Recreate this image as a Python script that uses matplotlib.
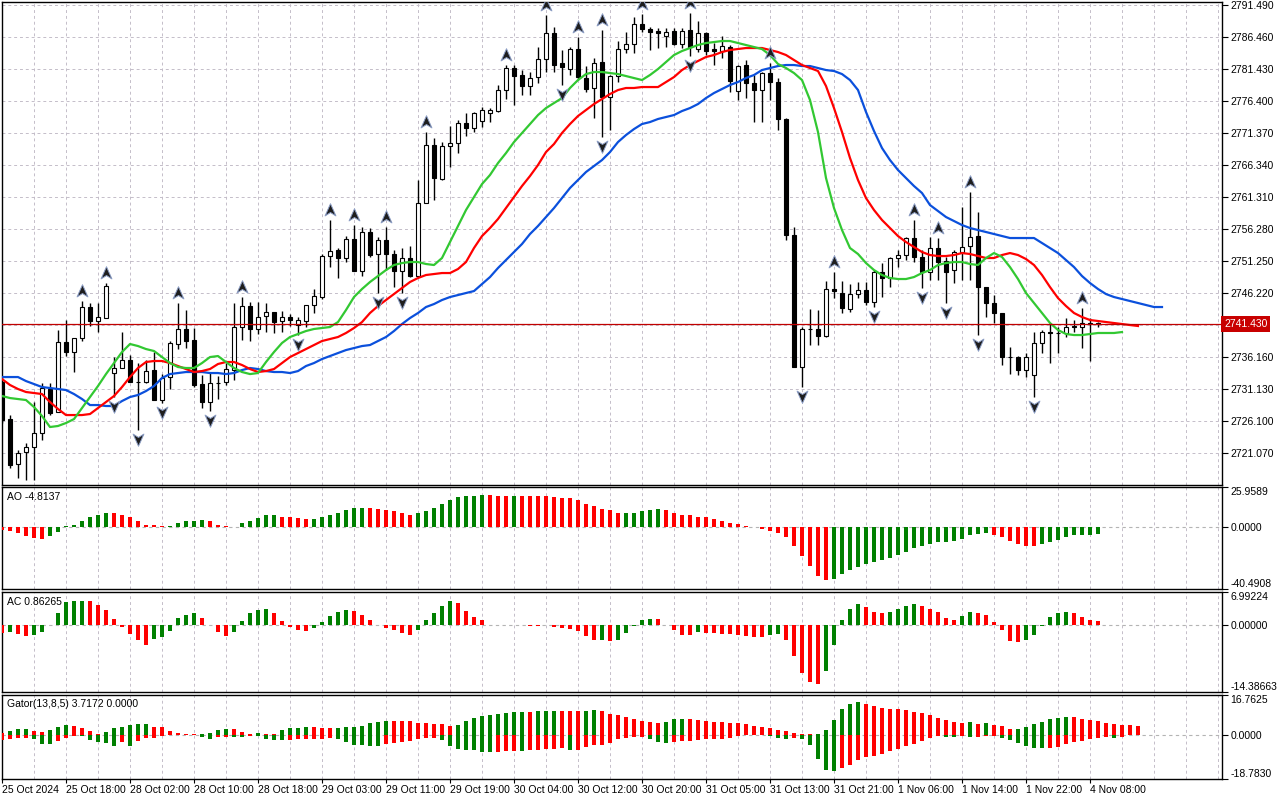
"""XAUUSD H1 chart: candles, Alligator, fractals, AO, AC and Gator panels."""

import matplotlib
matplotlib.use('Agg')
from matplotlib import pyplot as plt
from matplotlib.path import Path
from matplotlib.transforms import blended_transform_factory
import numpy as np

plt.rcParams['font.family'] = ['Liberation Sans', 'DejaVu Sans']
plt.rcParams['font.size'] = 7.5

time_labels = [
    '25 Oct 2024', '25 Oct 18:00', '28 Oct 02:00', '28 Oct 10:00', '28 Oct 18:00',
    '29 Oct 03:00', '29 Oct 11:00', '29 Oct 19:00', '30 Oct 04:00', '30 Oct 12:00',
    '30 Oct 20:00', '31 Oct 05:00', '31 Oct 13:00', '31 Oct 21:00', '1 Nov 06:00',
    '1 Nov 14:00', '1 Nov 22:00', '4 Nov 08:00',
]

opens = [
    2732.27, 2726.46, 2719.39, 2721.27, 2722.06, 2724.26, 2731.17, 2727.55, 2738.55, 2736.98,
    2739.18, 2744.05, 2741.85, 2742.32, 2733.68, 2734.47, 2735.72, 2732.27, 2732.27, 2734.15,
    2729.44, 2733.05, 2738.24, 2740.60, 2738.87, 2731.95, 2729.13, 2732.11, 2732.27, 2734.15,
    2740.91, 2744.21, 2740.60, 2742.64, 2743.27, 2741.85, 2742.48, 2741.22, 2741.85, 2744.36,
    2745.62, 2752.06, 2753.01, 2751.75, 2754.73, 2749.70, 2755.83, 2752.38, 2754.58, 2752.38,
    2749.70, 2751.75, 2748.92, 2760.39, 2769.50, 2764.16, 2769.34, 2769.81, 2772.96, 2772.17,
    2773.27, 2774.53, 2774.84, 2778.14, 2781.60, 2780.50, 2778.77, 2780.18, 2783.01, 2787.10,
    2782.38, 2781.44, 2784.58, 2780.03, 2778.46, 2782.54, 2777.04, 2780.34, 2784.58, 2785.37,
    2788.51, 2787.72, 2787.41, 2786.62, 2787.41, 2785.37, 2787.57, 2784.58, 2787.10, 2784.58,
    2784.27, 2784.90, 2777.98, 2782.07, 2779.24, 2778.14, 2780.81, 2779.40, 2773.59, 2755.36,
    2734.62, 2740.60, 2740.60, 2739.49, 2746.88, 2746.25, 2743.74, 2746.09, 2746.72, 2744.83,
    2749.55, 2748.61, 2751.75, 2752.22, 2754.89, 2751.91, 2749.55, 2753.32, 2751.28, 2749.86,
    2752.69, 2753.63, 2755.20, 2747.19, 2744.68, 2743.11, 2736.19, 2736.19, 2734.15, 2733.37,
    2738.40, 2740.12, 2739.97, 2739.97, 2741.07, 2740.91, 2741.54, 2741.54,
]
highs = [
    2732.90, 2727.08, 2721.58, 2722.69, 2729.13, 2732.11, 2732.11, 2740.44, 2742.01, 2739.18,
    2744.99, 2744.68, 2744.68, 2747.82, 2736.19, 2740.12, 2736.51, 2735.25, 2735.72, 2736.98,
    2733.52, 2738.71, 2744.68, 2743.58, 2740.75, 2733.37, 2733.84, 2733.21, 2735.25, 2744.68,
    2745.62, 2744.83, 2744.83, 2744.68, 2743.27, 2743.42, 2742.95, 2742.48, 2744.36, 2746.88,
    2752.38, 2757.72, 2753.32, 2755.20, 2756.93, 2756.62, 2756.46, 2755.05, 2756.62, 2753.01,
    2753.32, 2753.63, 2764.00, 2771.54, 2770.60, 2769.97, 2772.49, 2773.43, 2774.53, 2774.69,
    2775.47, 2775.31, 2778.93, 2782.07, 2782.07, 2781.28, 2780.97, 2784.90, 2789.92, 2788.04,
    2784.43, 2784.90, 2786.47, 2781.91, 2783.17, 2787.57, 2780.50, 2785.84, 2787.25, 2789.61,
    2790.08, 2788.04, 2787.88, 2787.88, 2787.88, 2787.88, 2790.24, 2788.98, 2787.25, 2785.52,
    2786.62, 2785.21, 2782.07, 2782.85, 2780.50, 2780.97, 2782.38, 2780.03, 2773.74, 2756.62,
    2740.91, 2743.74, 2743.58, 2748.13, 2749.55, 2748.13, 2747.66, 2747.98, 2747.98, 2749.86,
    2750.96, 2751.91, 2753.01, 2755.05, 2757.72, 2753.01, 2755.05, 2754.89, 2751.91, 2753.01,
    2759.76, 2762.12, 2758.97, 2747.19, 2745.94, 2743.11, 2737.77, 2736.35, 2736.82, 2740.12,
    2740.44, 2741.54, 2740.91, 2742.32, 2742.01, 2743.89, 2742.32, 2741.69,
]
lows = [
    2725.83, 2718.76, 2717.19, 2716.87, 2716.87, 2723.16, 2727.08, 2727.55, 2736.35, 2733.84,
    2738.71, 2741.07, 2740.12, 2742.32, 2729.91, 2734.47, 2732.27, 2724.73, 2732.11, 2729.44,
    2728.97, 2731.17, 2737.45, 2737.61, 2731.48, 2728.18, 2727.71, 2729.60, 2731.80, 2732.58,
    2738.87, 2738.71, 2739.81, 2740.12, 2739.97, 2740.12, 2741.07, 2739.65, 2740.91, 2743.11,
    2745.31, 2750.33, 2748.61, 2751.12, 2749.70, 2748.92, 2751.91, 2746.25, 2749.86, 2747.19,
    2746.25, 2748.76, 2748.92, 2760.39, 2760.86, 2764.00, 2766.04, 2768.24, 2770.91, 2771.54,
    2772.33, 2773.11, 2774.69, 2776.73, 2775.78, 2777.36, 2777.36, 2779.24, 2780.97, 2780.97,
    2778.93, 2780.50, 2779.71, 2777.83, 2773.74, 2770.76, 2771.86, 2779.40, 2783.95, 2783.95,
    2787.25, 2784.43, 2784.74, 2784.90, 2785.21, 2784.74, 2783.48, 2784.11, 2783.64, 2782.07,
    2783.17, 2777.83, 2776.57, 2776.88, 2773.11, 2773.11, 2776.57, 2771.86, 2754.58, 2734.62,
    2731.48, 2738.08, 2738.08, 2739.34, 2745.46, 2743.11, 2743.27, 2745.46, 2744.36, 2744.05,
    2745.62, 2747.19, 2750.33, 2751.43, 2751.12, 2747.03, 2748.29, 2748.29, 2744.68, 2747.82,
    2748.29, 2748.29, 2739.65, 2742.48, 2741.54, 2734.94, 2733.52, 2733.37, 2733.05, 2729.91,
    2736.82, 2735.25, 2736.82, 2739.34, 2740.12, 2737.61, 2735.57, 2740.91,
]
closes = [
    2726.30, 2719.23, 2721.11, 2722.06, 2724.26, 2731.33, 2727.40, 2738.55, 2736.98, 2739.18,
    2744.05, 2741.85, 2742.48, 2747.35, 2734.47, 2735.72, 2732.27, 2732.20, 2733.99, 2729.44,
    2732.90, 2738.40, 2740.60, 2738.71, 2731.80, 2729.13, 2732.11, 2732.05, 2734.31, 2740.91,
    2744.21, 2740.60, 2742.48, 2743.27, 2741.69, 2742.48, 2742.01, 2742.01, 2744.36, 2745.78,
    2752.06, 2752.85, 2751.75, 2754.73, 2749.70, 2755.83, 2752.22, 2754.58, 2752.38, 2749.70,
    2751.75, 2748.92, 2760.39, 2769.50, 2764.32, 2769.34, 2769.81, 2772.96, 2772.17, 2774.53,
    2775.00, 2775.00, 2778.14, 2781.60, 2780.34, 2778.77, 2780.03, 2783.01, 2787.10, 2782.07,
    2781.75, 2784.58, 2780.18, 2778.30, 2782.38, 2777.04, 2780.34, 2784.58, 2785.37, 2788.51,
    2787.72, 2787.25, 2787.10, 2787.25, 2785.37, 2787.41, 2784.90, 2787.10, 2784.27, 2784.27,
    2785.05, 2779.55, 2781.91, 2779.24, 2778.14, 2780.81, 2779.40, 2773.59, 2755.36, 2734.62,
    2740.60, 2740.55, 2739.49, 2746.88, 2746.56, 2743.89, 2746.09, 2746.72, 2744.83, 2749.55,
    2748.61, 2751.75, 2752.22, 2754.89, 2751.91, 2749.55, 2753.32, 2751.12, 2749.55, 2752.69,
    2753.48, 2755.05, 2747.19, 2744.68, 2743.11, 2736.19, 2736.15, 2734.15, 2736.19, 2738.40,
    2740.12, 2739.97, 2739.92, 2740.91, 2740.91, 2741.54, 2741.38, 2741.43,
]

# Alligator lines, already shifted forward (8, 5 and 3 bars)
jaw = [
    2733.05, 2733.05, 2733.05, 2732.42, 2731.95, 2731.48, 2731.33, 2731.17, 2731.01, 2730.38,
    2729.60, 2728.65, 2728.65, 2728.50, 2728.50, 2729.28, 2729.91, 2730.23, 2730.85, 2731.64,
    2732.90, 2733.52, 2733.68, 2733.84, 2733.84, 2733.84, 2733.68, 2733.68, 2733.52, 2733.68,
    2734.15, 2734.47, 2734.31, 2733.99, 2733.84, 2733.84, 2733.68, 2733.99, 2734.78, 2735.25,
    2735.88, 2736.35, 2736.82, 2737.29, 2737.61, 2737.92, 2738.08, 2738.71, 2739.34, 2740.28,
    2741.38, 2742.32, 2743.11, 2744.05, 2744.52, 2745.15, 2745.62, 2745.94, 2746.25, 2746.56,
    2747.66, 2748.76, 2750.18, 2751.43, 2752.69, 2753.95, 2755.52, 2756.78, 2758.19, 2759.60,
    2761.17, 2762.75, 2764.00, 2765.26, 2766.20, 2767.14, 2768.40, 2769.97, 2771.07, 2772.01,
    2772.80, 2773.11, 2773.59, 2773.90, 2774.21, 2774.84, 2775.31, 2775.94, 2776.88, 2777.67,
    2778.30, 2778.93, 2779.40, 2780.03, 2780.50, 2781.28, 2781.60, 2781.91, 2782.07, 2782.07,
    2781.91, 2781.91, 2781.60, 2781.28, 2781.13, 2780.65, 2779.71, 2778.14, 2774.69, 2771.70,
    2769.03, 2767.14, 2765.57, 2764.32, 2763.06, 2761.96, 2760.07, 2759.13, 2758.19, 2757.56,
    2756.93, 2756.46, 2756.15, 2755.83, 2755.52, 2755.20, 2754.89, 2754.89, 2754.89, 2754.89,
    2754.10, 2753.32, 2752.53, 2751.43, 2750.33, 2748.92, 2747.82, 2746.88, 2746.09, 2745.62,
    2745.31, 2744.99, 2744.68, 2744.36, 2744.05, 2744.05,
]
teeth = [
    2732.74, 2731.80, 2731.17, 2730.70, 2730.54, 2730.38, 2729.13, 2728.03, 2727.08, 2727.08,
    2727.08, 2727.24, 2728.18, 2729.13, 2730.07, 2731.48, 2733.05, 2734.47, 2735.41, 2735.57,
    2735.57, 2735.25, 2734.78, 2734.31, 2733.84, 2733.99, 2734.31, 2735.10, 2735.41, 2735.41,
    2734.94, 2734.31, 2733.84, 2733.99, 2734.31, 2735.25, 2736.19, 2736.82, 2737.45, 2738.08,
    2738.71, 2739.02, 2739.34, 2739.97, 2740.75, 2741.69, 2743.11, 2744.21, 2745.15, 2746.09,
    2747.03, 2747.98, 2748.61, 2749.08, 2749.23, 2749.39, 2749.39, 2750.02, 2751.12, 2753.32,
    2755.20, 2756.46, 2757.88, 2759.60, 2761.33, 2763.06, 2764.63, 2766.36, 2768.40, 2769.66,
    2771.39, 2772.80, 2774.06, 2775.00, 2775.94, 2776.73, 2777.51, 2778.14, 2778.46, 2778.46,
    2778.61, 2778.61, 2778.61, 2779.40, 2780.18, 2781.28, 2782.07, 2782.70, 2783.33, 2783.64,
    2784.11, 2784.43, 2784.58, 2784.74, 2784.74, 2784.74, 2784.43, 2784.11, 2783.64, 2782.85,
    2782.07, 2781.60, 2781.13, 2778.77, 2775.31, 2771.54, 2767.46, 2764.00, 2761.17, 2759.29,
    2757.72, 2756.46, 2755.20, 2754.26, 2753.48, 2752.69, 2752.22, 2752.06, 2752.06, 2752.22,
    2752.53, 2752.38, 2752.06, 2751.75, 2751.75, 2752.22, 2752.53, 2752.22, 2751.59, 2750.65,
    2749.08, 2747.19, 2745.46, 2744.21, 2743.11, 2742.48, 2742.01, 2741.85, 2741.69, 2741.54,
    2741.38, 2741.22, 2741.07,
]
lips = [
    2730.07, 2729.75, 2729.60, 2729.44, 2728.34, 2726.93, 2725.20, 2725.36, 2725.83, 2726.45,
    2728.18, 2729.91, 2731.64, 2733.52, 2735.25, 2736.98, 2738.24, 2737.92, 2737.45, 2737.14,
    2736.19, 2735.25, 2734.62, 2734.47, 2734.47, 2735.25, 2736.19, 2736.35, 2735.41, 2734.47,
    2733.84, 2733.52, 2733.68, 2735.41, 2736.98, 2738.40, 2739.34, 2739.81, 2740.28, 2740.60,
    2740.75, 2740.91, 2741.69, 2743.58, 2745.62, 2746.88, 2747.98, 2748.92, 2749.86, 2750.65,
    2750.96, 2751.12, 2751.12, 2750.81, 2750.65, 2751.75, 2754.26, 2756.78, 2759.29, 2761.33,
    2763.37, 2764.79, 2766.67, 2768.24, 2769.97, 2771.39, 2772.80, 2774.21, 2775.31, 2776.10,
    2776.88, 2778.46, 2779.71, 2780.65, 2780.97, 2780.97, 2780.81, 2780.65, 2780.34, 2780.03,
    2779.71, 2780.50, 2781.44, 2782.54, 2783.64, 2784.27, 2784.74, 2785.21, 2785.52, 2785.68,
    2785.84, 2785.84, 2785.52, 2785.21, 2784.90, 2784.58, 2783.64, 2782.23, 2781.60, 2780.81,
    2779.71, 2776.57, 2771.54, 2764.32, 2759.60, 2756.15, 2753.32, 2752.38, 2750.96, 2749.86,
    2749.08, 2748.61, 2748.45, 2748.45, 2748.76, 2749.39, 2749.86, 2750.65, 2750.96, 2751.12,
    2751.12, 2750.81, 2750.65, 2751.75, 2752.53, 2751.91, 2750.33, 2748.45, 2746.25, 2744.68,
    2743.11, 2741.54, 2740.44, 2739.81, 2739.65, 2739.65, 2739.81, 2739.97, 2739.97, 2739.97,
    2740.12,
]

fractals_up = [10, 13, 22, 30, 41, 44, 48, 53, 63, 68, 72, 75, 80, 86, 96, 104, 114, 117, 121, 135]
fractals_down = [14, 17, 20, 26, 37, 47, 50, 70, 75, 86, 100, 109, 115, 118, 122, 129]

ao_values = [
    -2.2, -2.8, -4.3, -6.1, -7.2, -7.6, -6.1, -3.5, 0.4, 1.5,
    4.1, 6.7, 8.0, 9.3, 8.7, 8.0, 6.1, 3.5, 1.1, 0.9,
    0.3, 0.5, 2.2, 3.5, 4.1, 4.2, 3.5, 1.5, 0.3, 0.2,
    2.2, 4.1, 5.6, 7.4, 7.5, 6.7, 6.1, 5.6, 5.0, 5.1,
    6.1, 7.4, 9.3, 11.1, 12.2, 12.6, 12.5, 11.9, 11.3, 10.6,
    9.3, 8.0, 8.7, 10.0, 12.6, 15.2, 17.8, 19.5, 19.8, 20.2,
    20.6, 20.5, 20.4, 20.3, 20.35, 20.2, 20.1, 20.0, 19.8, 19.5,
    19.1, 18.5, 17.8, 15.2, 13.7, 11.9, 10.9, 8.7, 8.8, 9.3,
    10.6, 11.1, 11.5, 10.9, 9.3, 8.0, 7.4, 6.7, 6.1, 5.0,
    3.9, 2.8, 1.7, 0.4, -0.4, -1.5, -2.8, -4.3, -6.7, -12.6,
    -19.1, -25.6, -32.1, -34.8, -33.7, -30.4, -28.2, -26.1, -23.9, -22.8,
    -21.9, -20.6, -18.5, -16.5, -13.7, -12.6, -10.9, -10.0, -9.8, -8.9,
    -7.6, -5.6, -4.6, -4.1, -5.0, -6.5, -9.3, -10.9, -12.2, -12.8,
    -11.5, -9.8, -8.3, -6.7, -5.6, -5.5, -5.3, -4.8137,
]
ac_values = [
    -1.8, -1.6, -1.9, -2.5, -2.3, -1.6, -0.1, 2.4, 4.8, 5.0,
    5.1, 5.05, 4.3, 3.2, 1.3, -0.4, -1.9, -3.2, -4.4, -3.0,
    -2.7, -1.3, 1.4, 2.1, 2.4, 1.4, -0.1, -1.6, -2.5, -1.6,
    0.7, 2.4, 3.2, 3.3, 2.4, 0.7, -0.4, -1.2, -1.25, -0.6,
    0.5, 1.8, 2.7, 3.2, 3.0, 2.1, 0.9, -0.1, -0.6, -1.2,
    -1.8, -2.1, -1.1, 0.9, 2.6, 4.1, 5.0, 4.7, 3.0, 1.7,
    0.9, -0.05, -0.1, -0.05, -0.1, -0.15, -0.2, -0.25, -0.15, -0.4,
    -0.6, -0.9, -1.3, -2.5, -3.3, -3.2, -3.4, -3.2, -1.8, -0.3,
    0.9, 1.3, 1.25, -0.1, -1.1, -2.1, -2.15, -1.6, -1.8, -1.85,
    -1.9, -1.95, -2.3, -2.5, -2.55, -2.6, -2.3, -2.0, -3.2, -6.6,
    -10.3, -12.3, -12.6, -10.0, -4.3, 0.9, 3.4, 4.5, 3.8, 2.7,
    2.6, 2.7, 3.4, 4.1, 4.5, 4.1, 3.4, 2.7, 1.4, 1.1,
    1.9, 2.7, 2.5, 2.1, 0.6, -1.2, -3.4, -3.7, -3.2, -2.1,
    -0.2, 1.6, 2.5, 2.8, 2.5, 1.6, 1.1, 0.86265,
]
gator_upper = [
    0.7, 1.4, 2.3, 2.35, 1.7, 1.0, 2.1, 3.1, 4.2, 3.8,
    2.7, 1.7, 0.4, 1.3, 2.9, 3.1, 4.0, 4.4, 4.7, 3.3,
    3.1, 1.7, 0.85, 0.4, 0.3, 0.45, 0.5, 1.8, 2.3, 2.2,
    1.3, 0.4, 0.85, 0.4, 0.3, 1.8, 2.8, 3.0, 3.1, 3.05,
    3.0, 2.95, 3.0, 3.1, 3.2, 3.8, 4.8, 5.4, 5.9, 5.85,
    5.8, 5.75, 5.1, 5.0, 4.5, 4.4, 3.8, 4.2, 5.9, 7.1,
    8.0, 8.5, 8.9, 9.3, 9.6, 9.7, 9.65, 9.9, 10.0, 10.05,
    9.9, 9.85, 9.8, 9.9, 10.3, 9.9, 8.9, 8.5, 7.6, 6.8,
    5.9, 5.5, 5.1, 5.5, 6.5, 6.8, 6.75, 6.3, 5.9, 5.5,
    5.45, 5.1, 5.05, 4.7, 3.8, 3.4, 3.0, 2.1, 1.7, 0.85,
    0.4, 0.05, 0.4, 2.1, 6.3, 11.0, 13.1, 14.0, 13.1, 12.3,
    11.4, 11.0, 10.95, 10.6, 9.7, 9.3, 8.5, 7.2, 6.3, 5.5,
    5.1, 5.15, 4.7, 4.75, 4.2, 3.8, 2.5, 2.55, 3.4, 4.7,
    5.5, 6.8, 7.2, 7.6, 7.55, 6.8, 6.3, 5.9, 5.1, 4.7,
    4.2, 4.15, 3.7172,
]
gator_lower = [
    -2.4, -2.0, -1.3, -1.25, -2.0, -3.8, -4.1, -2.8, -1.3, -0.4,
    -0.7, -2.4, -3.2, -3.7, -4.8, -3.3, -4.9, -2.8, -1.6, -1.4,
    -0.7, -0.3, -0.2, -0.1, -0.3, -1.0, -1.8, -1.0, -0.95, -1.1,
    -1.15, -0.6, -0.7, -2.0, -2.4, -2.45, -2.1, -2.05, -2.0, -1.95,
    -1.9, -1.6, -2.0, -3.3, -4.5, -4.55, -4.8, -4.85, -4.1, -3.7,
    -3.3, -2.8, -1.8, -1.6, -1.55, -2.4, -4.9, -6.0, -6.5, -6.6,
    -7.3, -7.45, -7.4, -7.0, -6.9, -6.95, -6.6, -6.55, -6.1, -5.9,
    -5.85, -6.6, -6.55, -5.4, -4.5, -4.45, -3.4, -2.0, -1.6, -1.1,
    -1.05, -2.0, -3.2, -3.7, -3.3, -2.8, -2.75, -2.4, -2.0, -1.95,
    -1.9, -1.6, -0.7, -0.3, -0.25, -0.3, -0.7, -1.6, -2.0, -1.6,
    -1.65, -4.5, -10.2, -15.1, -15.5, -14.2, -13.0, -10.9, -9.6, -9.2,
    -8.0, -7.05, -6.2, -4.9, -4.1, -2.8, -1.6, -0.7, -1.1, -1.15,
    -0.7, -1.1, -1.05, -0.7, -0.55, -1.4, -2.4, -3.7, -4.9, -5.8,
    -5.85, -5.8, -5.4, -4.1, -3.2, -2.8, -2.0, -1.6, -1.1, -1.6,
    -1.0,
]

last_price = 2741.43
price_ticks = [2721.070, 2726.100, 2731.130, 2736.160, 2741.190, 2746.220, 2751.250,
               2756.280, 2761.310, 2766.340, 2771.370, 2776.400, 2781.430, 2786.460, 2791.490]
price_range = (2716.09, 2791.97)
ao_range = (-40.4908, 25.9589)
ac_range = (-14.38663, 6.99224)
gator_range = (-18.7830, 16.7625)

GREEN = '#008000'
RED = '#ff0000'
GRID = '#c4bdc9'
X_MAX = 152.5


def up_arrow():
    """Arrowhead used by MT fractals, pointing up."""
    verts = [(0, 1), (0.8, -0.8), (0, -0.3), (-0.8, -0.8), (0, 1)]
    codes = [Path.MOVETO, Path.LINETO, Path.LINETO, Path.LINETO, Path.CLOSEPOLY]
    return Path(verts, codes)


def down_arrow():
    """Same arrowhead, pointing down."""
    verts = [(0, -1), (0.8, 0.8), (0, 0.3), (-0.8, 0.8), (0, -1)]
    codes = [Path.MOVETO, Path.LINETO, Path.LINETO, Path.LINETO, Path.CLOSEPOLY]
    return Path(verts, codes)


def hist_colors(values, magnitude=False):
    """Green when the bar grows against the previous one, red otherwise."""
    colors = []
    prev = None
    for v in values:
        cur = abs(v) if magnitude else v
        colors.append(GREEN if prev is not None and cur > prev else RED)
        prev = cur
    return colors


def style_panel(ax):
    """Common frame, grid and right-side scale."""
    ax.set_xlim(0, X_MAX)
    ax.set_xticks(np.arange(0, len(time_labels) * 8, 8))
    ax.set_xticks(np.arange(0, X_MAX, 4), minor=True)
    ax.grid(True, which='both', axis='x', color=GRID, linestyle=(0, (3, 3)), linewidth=0.7)
    ax.tick_params(axis='x', which='both', length=0, labelbottom=False)
    ax.yaxis.tick_right()
    ax.tick_params(axis='y', length=4, width=0.8, pad=2, labelsize=7.5)
    ax.set_axisbelow(True)
    for spine in ax.spines.values():
        spine.set_color('black')
        spine.set_linewidth(1.0)


def scale_labels(ax, y_range, fmt):
    """Max, zero and min labels on the right, like MetaTrader subwindows."""
    lo, hi = y_range
    ax.set_ylim(lo, hi)
    ax.set_yticks([lo, 0, hi])
    ax.set_yticklabels([fmt.format(lo), fmt.format(0), fmt.format(hi)])
    labels = ax.get_yticklabels()
    labels[0].set_va('bottom')
    labels[2].set_va('top')
    ax.axhline(0, color='#b4b4b4', linestyle=(0, (3, 3)), linewidth=0.8, zorder=1)


fig = plt.figure(figsize=(12.8, 8), dpi=100)
fig.patch.set_facecolor('white')
W, H = 1280.0, 800.0


def panel(top, bottom):
    return fig.add_axes([2 / W, 1 - bottom / H, 1220 / W, (bottom - top) / H])


ax_main = panel(2, 485)
ax_ao = panel(487, 589)
ax_ac = panel(592, 692)
ax_gator = panel(695, 779)

# main chart
style_panel(ax_main)
ax_main.set_ylim(*price_range)
ax_main.set_yticks(price_ticks)
# the level next to the current price is hidden behind its red box
ax_main.set_yticklabels(['' if abs(p - last_price) < 1.0 else f'{p:.3f}' for p in price_ticks])
ax_main.grid(True, axis='y', color=GRID, linestyle=(0, (3, 3)), linewidth=0.7)

x = np.arange(len(opens))
o = np.array(opens)
c = np.array(closes)
ax_main.vlines(x, lows, highs, color='black', linewidth=1.0, zorder=2)
body_colors = ['white' if cc >= oo else 'black' for oo, cc in zip(opens, closes)]
ax_main.bar(x, np.abs(c - o), bottom=np.minimum(o, c), width=0.62, color=body_colors,
            edgecolor='black', linewidth=0.8, zorder=3)

ax_main.plot(np.arange(len(jaw)), jaw, color='#0b50dc', linewidth=1.6, zorder=4)
ax_main.plot(np.arange(len(teeth)), teeth, color='#ff0000', linewidth=1.6, zorder=4)
ax_main.plot(np.arange(len(lips)), lips, color='#32c832', linewidth=1.6, zorder=4)

ax_main.scatter(fractals_up, [highs[i] + 1.6 for i in fractals_up], marker=up_arrow(), s=95,
                c='#1e1e1e', edgecolors='#8a9cc4', linewidths=0.7, zorder=6)
ax_main.scatter(fractals_down, [lows[i] - 1.4 for i in fractals_down], marker=down_arrow(), s=95,
                c='#1e1e1e', edgecolors='#8a9cc4', linewidths=0.7, zorder=6)

ax_main.axhline(last_price, color='#c00000', linewidth=0.9, zorder=5)
trans = blended_transform_factory(ax_main.transAxes, ax_main.transData)
ax_main.text(1.0018, last_price, f'{last_price:.3f}', transform=trans, ha='left', va='center',
             color='white', fontsize=7.5, clip_on=False, zorder=10,
             bbox=dict(boxstyle='square,pad=0.28', facecolor='#c80000', edgecolor='none'))

# AO
style_panel(ax_ao)
scale_labels(ax_ao, ao_range, '{:.4f}')
ax_ao.bar(np.arange(len(ao_values)), ao_values, width=0.62, color=hist_colors(ao_values), zorder=3)
ax_ao.text(0.004, 0.95, 'AO -4.8137', transform=ax_ao.transAxes, ha='left', va='top', fontsize=7.5)

# AC
style_panel(ax_ac)
scale_labels(ax_ac, ac_range, '{:.5f}')
ax_ac.bar(np.arange(len(ac_values)), ac_values, width=0.62, color=hist_colors(ac_values), zorder=3)
ax_ac.text(0.004, 0.95, 'AC 0.86265', transform=ax_ac.transAxes, ha='left', va='top', fontsize=7.5)

# Gator
style_panel(ax_gator)
scale_labels(ax_gator, gator_range, '{:.4f}')
ax_gator.bar(np.arange(len(gator_upper)), gator_upper, width=0.62,
             color=hist_colors(gator_upper), zorder=3)
ax_gator.bar(np.arange(len(gator_lower)), gator_lower, width=0.62,
             color=hist_colors(gator_lower, magnitude=True), zorder=3)
ax_gator.text(0.004, 0.95, 'Gator(13,8,5) 3.7172 0.0000', transform=ax_gator.transAxes,
              ha='left', va='top', fontsize=7.5)

ax_gator.set_xticklabels(time_labels)
ax_gator.tick_params(axis='x', which='major', length=3, width=0.8, labelbottom=True, pad=1,
                     labelsize=7.5)
for lbl in ax_gator.get_xticklabels():
    lbl.set_ha('left')

fig.savefig('out.png', dpi=100, facecolor='white')
